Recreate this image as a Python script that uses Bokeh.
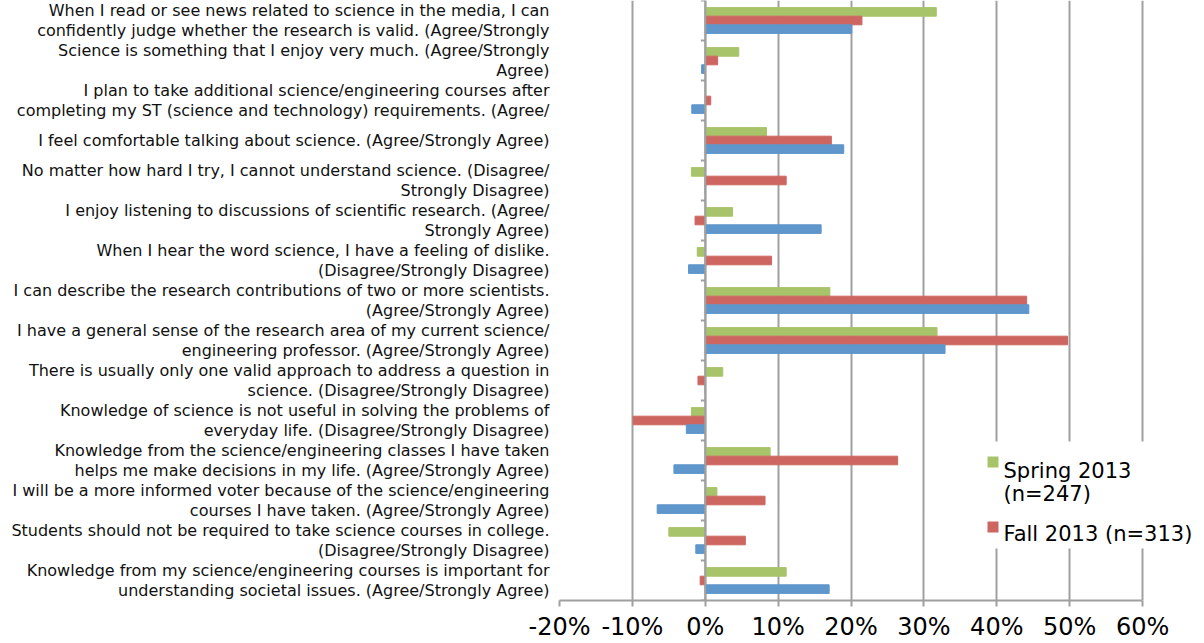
from bokeh.plotting import figure
from bokeh.models import FactorRange, FixedTicker, NumeralTickFormatter, Span, Label, BoxAnnotation
from bokeh.transform import dodge
from bokeh.embed import file_html
from bokeh.resources import INLINE
from bokeh.models import ColumnDataSource

categories = [
    "When I read or see news related to science in the media, I can\nconfidently judge whether the research is valid. (Agree/Strongly",
    "Science is something that I enjoy very much. (Agree/Strongly\nAgree)",
    "I plan to take additional science/engineering courses after\ncompleting my ST (science and technology) requirements. (Agree/",
    "I feel comfortable talking about science. (Agree/Strongly Agree)",
    "No matter how hard I try, I cannot understand science. (Disagree/\nStrongly Disagree)",
    "I enjoy listening to discussions of scientific research. (Agree/\nStrongly Agree)",
    "When I hear the word science, I have a feeling of dislike.\n(Disagree/Strongly Disagree)",
    "I can describe the research contributions of two or more scientists.\n(Agree/Strongly Agree)",
    "I have a general sense of the research area of my current science/\nengineering professor. (Agree/Strongly Agree)",
    "There is usually only one valid approach to address a question in\nscience. (Disagree/Strongly Disagree)",
    "Knowledge of science is not useful in solving the problems of\neveryday life. (Disagree/Strongly Disagree)",
    "Knowledge from the science/engineering classes I have taken\nhelps me make decisions in my life. (Agree/Strongly Agree)",
    "I will be a more informed voter because of the science/engineering\ncourses I have taken. (Agree/Strongly Agree)",
    "Students should not be required to take science courses in college.\n(Disagree/Strongly Disagree)",
    "Knowledge from my science/engineering courses is important for\nunderstanding societal issues. (Agree/Strongly Agree)",
]

spring_2013 = [0.317, 0.046, 0.0, 0.084, -0.019, 0.0375, -0.011, 0.171, 0.318, 0.024, -0.019, 0.089, 0.016, -0.050, 0.111]
fall_2013 = [0.215, 0.017, 0.0075, 0.173, 0.111, -0.014, 0.091, 0.441, 0.497, -0.010, -0.099, 0.264, 0.082, 0.055, -0.007]
third_series = [0.201, -0.005, -0.0185, 0.190, 0.0, 0.159, -0.023, 0.444, 0.329, 0.0, -0.026, -0.043, -0.066, -0.013, 0.170]

x_ticks = [-0.2, -0.1, 0.0, 0.1, 0.2, 0.3, 0.4, 0.5, 0.6]

GREEN = "#A8C46A"
RED = "#CD6660"
BLUE = "#5F96CB"
GRID = "#A0A0A0"
FONT = "DejaVu Sans"

src = ColumnDataSource(dict(cat=categories, s=spring_2013, f=fall_2013, t=third_series))

p = figure(width=1204, height=643, output_backend="svg", toolbar_location=None,
           y_range=FactorRange(factors=categories[::-1], range_padding=0),
           x_range=(-0.2, 0.685),
           min_border_left=559, min_border_top=0, min_border_bottom=43, min_border_right=0)
p.outline_line_color = None

bh = 0.215
p.hbar(y=dodge("cat", bh, range=p.y_range), left=0, right="s", height=bh, source=src, color=GREEN)
p.hbar(y=dodge("cat", 0, range=p.y_range), left=0, right="f", height=bh, source=src, color=RED)
p.hbar(y=dodge("cat", -bh, range=p.y_range), left=0, right="t", height=bh, source=src, color=BLUE)

# x axis
xa = p.xaxis[0]
xa.ticker = FixedTicker(ticks=x_ticks)
xa.formatter = NumeralTickFormatter(format="0%")
xa.bounds = (x_ticks[0], x_ticks[-1])
xa.axis_line_color = GRID
xa.axis_line_width = 2
xa.major_tick_line_color = GRID
xa.major_tick_line_width = 2
xa.major_tick_in = 0
xa.major_tick_out = 6
xa.minor_tick_line_color = None
xa.major_label_text_font = FONT
xa.major_label_text_font_size = "24px"
xa.major_label_text_color = "black"
xa.major_label_standoff = 6

# y axis
ya = p.yaxis[0]
ya.axis_line_color = None
ya.major_tick_line_color = None
ya.minor_tick_line_color = None
ya.major_tick_in = 0
ya.major_tick_out = 0
ya.major_label_text_font = FONT
ya.major_label_text_font_size = "16px"
ya.major_label_text_color = "#111111"
ya.major_label_text_line_height = 1.06
ya.major_label_standoff = 10

p.xgrid.ticker = FixedTicker(ticks=x_ticks)
p.xgrid.grid_line_color = GRID
p.xgrid.grid_line_width = 2
p.ygrid.grid_line_color = None

# vertical category axis at 0%
p.add_layout(Span(location=0, dimension="height", line_color=GRID, line_width=2))
n = len(categories)
bounds = [i for i in range(n + 1)]
p.segment(x0=[-0.006] * len(bounds), x1=[0] * len(bounds), y0=bounds, y1=bounds,
          line_color=GRID, line_width=2)

# legend (manual; screen units are relative to the frame's bottom-left)
def box(l, r, t, b, color):
    return BoxAnnotation(left=l, right=r, top=t, bottom=b,
                         left_units="screen", right_units="screen", top_units="screen", bottom_units="screen",
                         fill_color=color, fill_alpha=1, line_color=None, level="overlay")

p.add_layout(box(416, 645, 159, 52, "white"))
p.add_layout(box(428, 439, 144, 133, GREEN))
p.add_layout(box(428, 439, 79, 68, RED))
for txt, yy in [("Spring 2013", 130), ("(n=247)", 107), ("Fall 2013 (n=313)", 67)]:
    p.add_layout(Label(x=444, y=yy, x_units="screen", y_units="screen", text=txt,
                       text_font=FONT, text_font_size="21px", text_baseline="alphabetic",
                       text_color="black", level="overlay"))

open("out.html", "w").write(file_html(p, INLINE))
